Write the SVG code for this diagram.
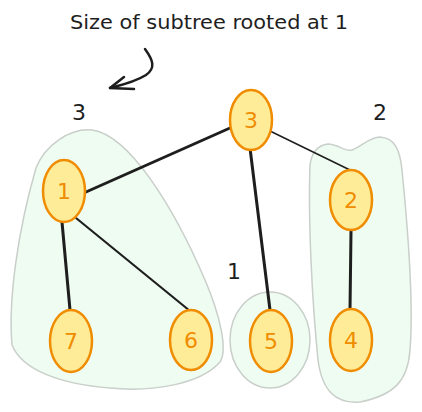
<svg xmlns="http://www.w3.org/2000/svg" width="422" height="412" viewBox="0 0 422 412">
<style>
.hull{fill:#ebfbee;fill-opacity:0.8;stroke:#c9cfca;stroke-width:1.5}
.node ellipse{fill:#ffec99;stroke:#f08c00;stroke-width:2.5}
.node text{fill:#f08c00;font-family:"DejaVu Sans","Liberation Sans",sans-serif;font-size:22px;text-anchor:middle}
.edge{stroke:#1e1e1e;stroke-width:2.5;fill:none;stroke-linecap:round;stroke-linejoin:round}
.lbl{fill:#1e1e1e;font-family:"DejaVu Sans","Liberation Sans",sans-serif;font-size:22px;text-anchor:middle}
</style>
<rect width="422" height="412" fill="#ffffff"/>
<g id="groups">
<path class="hull" d="M36,168 C45,145 70,128 92,130 C130,135 175,210 205,280 C220,315 228,350 220,362 C200,385 150,392 110,388 C60,384 22,370 12,345 C8,300 18,230 36,168 Z"/>
<ellipse class="hull" cx="270" cy="340" rx="40" ry="48"/>
<path class="hull" d="M310,165 C312,150 320,145 328,144 C338,144 345,152 352,150 C362,146 370,137 380,137 C395,138 400,150 402,170 C408,230 414,300 410,350 C408,380 395,395 360,402 C335,404 322,390 318,360 C312,300 308,220 310,165 Z"/>
</g>
<g id="connectors">
<line class="edge" x1="230" y1="128" x2="86" y2="192" style="stroke-width:3"/>
<line class="edge" x1="270" y1="131" x2="350" y2="170" style="stroke-width:1.5"/>
<line class="edge" x1="250" y1="148" x2="270" y2="310" style="stroke-width:3"/>
<line class="edge" x1="62" y1="222" x2="70" y2="310" style="stroke-width:3"/>
<line class="edge" x1="76" y1="218" x2="190" y2="311" style="stroke-width:2.2"/>
<line class="edge" x1="351" y1="231" x2="350" y2="310" style="stroke-width:3"/>
<path class="edge" d="M145,49 C153,60 156,68 146,75 C135,82 122,85 110,88"/>
<path class="edge" d="M124,77 L110,88 L134,89"/>
</g>
<g id="node-3" class="node"><ellipse cx="251" cy="120" rx="21" ry="30"/><text x="251" y="128">3</text></g>
<g id="node-1" class="node"><ellipse cx="64" cy="191" rx="21" ry="31"/><text x="64" y="199">1</text></g>
<g id="node-2" class="node"><ellipse cx="351" cy="200" rx="21" ry="30"/><text x="351" y="208">2</text></g>
<g id="node-7" class="node"><ellipse cx="71" cy="341" rx="21" ry="31"/><text x="71" y="349">7</text></g>
<g id="node-6" class="node"><ellipse cx="191" cy="340" rx="21" ry="30"/><text x="191" y="348">6</text></g>
<g id="node-5" class="node"><ellipse cx="271" cy="341" rx="21" ry="31"/><text x="271" y="349">5</text></g>
<g id="node-4" class="node"><ellipse cx="351" cy="340" rx="21" ry="31"/><text x="351" y="348">4</text></g>
<g id="labels">
<text class="lbl" x="209" y="29" textLength="278" lengthAdjust="spacingAndGlyphs" style="font-size:19px">Size of subtree rooted at 1</text>
<text class="lbl" x="79" y="120">3</text>
<text class="lbl" x="380" y="120">2</text>
<text class="lbl" x="234" y="279">1</text>
</g>
</svg>
